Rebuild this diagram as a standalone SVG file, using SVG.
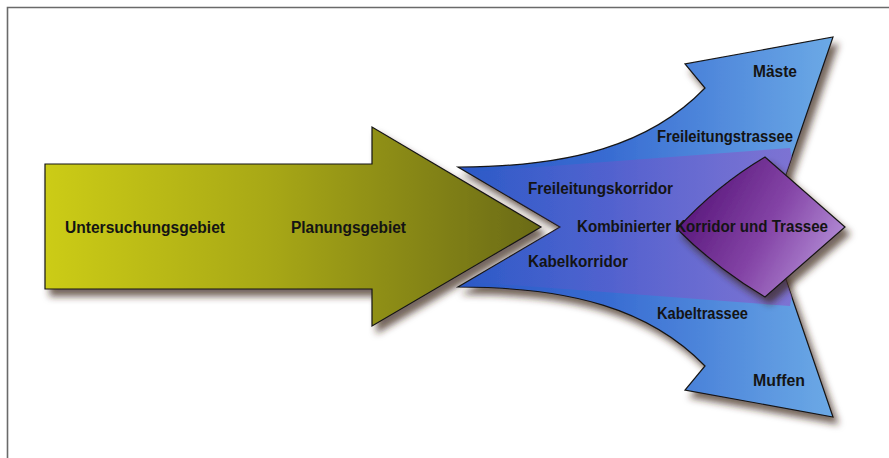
<svg xmlns="http://www.w3.org/2000/svg" width="889" height="458" viewBox="0 0 889 458">
  <defs>
    <style>
      .lbl { font-family: "Liberation Sans", Arial, sans-serif; font-weight: bold; font-size: 16px; fill: #141414; }
      .edge { stroke: #151515; stroke-width: 1.2; stroke-linejoin: miter; }
    </style>
    <filter id="shadow" x="-10%" y="-10%" width="130%" height="130%">
      <feGaussianBlur in="SourceAlpha" stdDeviation="3.5"/>
      <feOffset dx="5" dy="7" result="b"/>
      <feFlood flood-color="#3a2418" flood-opacity="0.7"/>
      <feComposite in2="b" operator="in" result="s"/>
      <feMerge><feMergeNode in="s"/><feMergeNode in="SourceGraphic"/></feMerge>
    </filter>
    <linearGradient id="gGreen" x1="45" y1="0" x2="541" y2="0" gradientUnits="userSpaceOnUse">
      <stop offset="0" stop-color="#cccc12"/>
      <stop offset="0.45" stop-color="#a8a814"/>
      <stop offset="1" stop-color="#6a6a12"/>
    </linearGradient>
    <linearGradient id="gBlue" x1="458" y1="0" x2="835" y2="0" gradientUnits="userSpaceOnUse">
      <stop offset="0" stop-color="#2c58c6"/>
      <stop offset="0.4" stop-color="#386cd2"/>
      <stop offset="1" stop-color="#6caae6"/>
    </linearGradient>
    <linearGradient id="gBand" x1="470" y1="0" x2="800" y2="0" gradientUnits="userSpaceOnUse">
      <stop offset="0" stop-color="#7a50c8" stop-opacity="0"/>
      <stop offset="0.5" stop-color="#7a50c8" stop-opacity="0.45"/>
      <stop offset="1" stop-color="#8a60cc" stop-opacity="0.7"/>
    </linearGradient>
    <linearGradient id="gPurple" x1="700" y1="180" x2="845" y2="260" gradientUnits="userSpaceOnUse">
      <stop offset="0" stop-color="#5a187c"/>
      <stop offset="0.5" stop-color="#8444a6"/>
      <stop offset="1" stop-color="#b996dc"/>
    </linearGradient>
    <clipPath id="blueClip">
      <path d="M458,167 C570,167 650,145 705,88 L685,64 L833,37 L785,177 L760,227 L785,277 L833,417 L685,390 L705,366 C650,309 570,287 458,287 L560,227 Z"/>
    </clipPath>
  </defs>

  <rect x="0" y="0" width="889" height="458" fill="#ffffff"/>
  <path d="M7.5,458 L7.5,7.5 L889,7.5" fill="none" stroke="#6a6a6a" stroke-width="1.6"/>

  <g id="node-planung">
    <polygon points="45,164 372,164 372,127 541,227 372,326 372,289 45,289" fill="url(#gGreen)" class="edge" filter="url(#shadow)"/>
    <text class="lbl" x="65" y="233" textLength="160" lengthAdjust="spacingAndGlyphs">Untersuchungsgebiet</text>
    <text class="lbl" x="291" y="233" textLength="115" lengthAdjust="spacingAndGlyphs">Planungsgebiet</text>
  </g>

  <g id="node-korridore">
    <path d="M458,167 C570,167 650,145 705,88 L685,64 L833,37 L785,177 L760,227 L785,277 L833,417 L685,390 L705,366 C650,309 570,287 458,287 L560,227 Z" fill="url(#gBlue)" class="edge" filter="url(#shadow)"/>
    <polygon points="470,172 790,148 805,227 790,306 470,282" fill="url(#gBand)" clip-path="url(#blueClip)"/>
    <text class="lbl" x="528" y="194" textLength="145" lengthAdjust="spacingAndGlyphs">Freileitungskorridor</text>
    <text class="lbl" x="528" y="267" textLength="100" lengthAdjust="spacingAndGlyphs">Kabelkorridor</text>
  </g>

  <g id="node-freileitung">
    <text class="lbl" x="657" y="142" textLength="136" lengthAdjust="spacingAndGlyphs">Freileitungstrassee</text>
    <text class="lbl" x="753" y="77" textLength="44" lengthAdjust="spacingAndGlyphs">Mäste</text>
  </g>

  <g id="node-kabel">
    <text class="lbl" x="657" y="319" textLength="91" lengthAdjust="spacingAndGlyphs">Kabeltrassee</text>
    <text class="lbl" x="753" y="386" textLength="52" lengthAdjust="spacingAndGlyphs">Muffen</text>
  </g>

  <g id="node-kombiniert">
    <path d="M677,229 Q716,186 765,157 L845,227 L765,297 Q716,268 677,229 Z" fill="url(#gPurple)" class="edge" filter="url(#shadow)"/>
    <text class="lbl" x="577" y="232" textLength="251" lengthAdjust="spacingAndGlyphs">Kombinierter Korridor und Trassee</text>
  </g>
</svg>
